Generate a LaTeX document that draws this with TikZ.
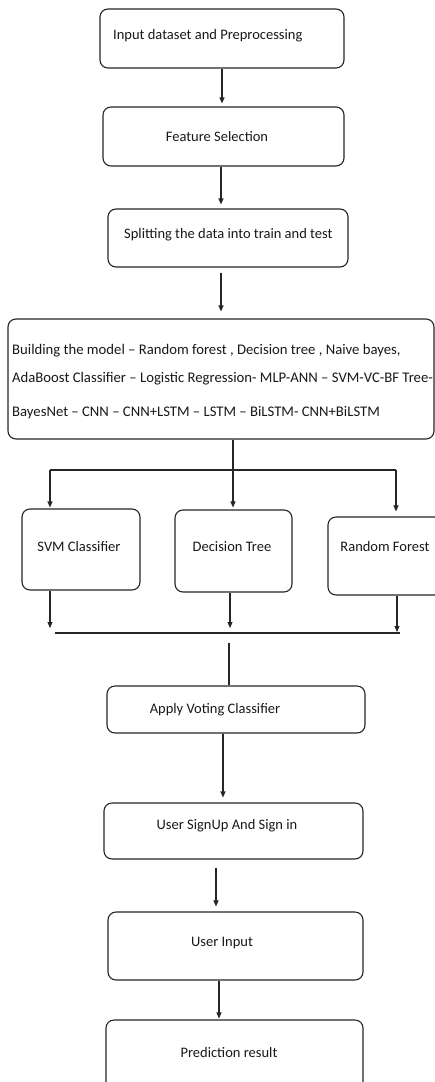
\documentclass[tikz,border=0pt]{standalone}
\usepackage{fontspec}
\setmainfont{Carlito}
\usetikzlibrary{arrows.meta,calc}
\begin{document}
\begin{tikzpicture}[x=1pt,y=-1pt,
  box/.style={draw=black!85,line width=1.1pt,rounded corners=8pt,inner sep=0pt},
  lbl/.style={inner sep=0pt,font=\fontsize{14.5}{16}\selectfont,text=black!90},
  arr/.style={draw=black!85,line width=1.1pt,-{Triangle[width=5pt,length=6pt]}},
  ln/.style={draw=black!85,line width=1.1pt}]
\clip (0,0) rectangle (435,1082);
\useasboundingbox (0,0) rectangle (435,1082);
\fill[white] (0,0) rectangle (435,1082);
% boxes
\node[box,minimum width=244pt,minimum height=59pt] (b1) at (222,38.5) {};
\node[box,minimum width=241pt,minimum height=59pt] (b2) at (223.5,136.5) {};
\node[box,minimum width=240pt,minimum height=58pt] (b3) at (228,238) {};
\node[box,minimum width=426pt,minimum height=120pt] (b4) at (221,379) {};
\node[box,minimum width=118pt,minimum height=81pt] (svm) at (81,549.5) {};
\node[box,minimum width=117pt,minimum height=82pt] (dt) at (233.5,551) {};
\node[box,minimum width=117pt,minimum height=78pt] (rf) at (386.5,556) {};
\node[box,minimum width=258pt,minimum height=47pt] (vote) at (236,709.5) {};
\node[box,minimum width=259pt,minimum height=56pt] (sign) at (233.5,831) {};
\node[box,minimum width=255pt,minimum height=68pt] (ui) at (235.5,946) {};
\node[box,minimum width=257pt,minimum height=70pt] (pred) at (234.5,1055) {};
% labels
\node[lbl,anchor=west] (t1) at (113,36) {Input dataset and Preprocessing};
\node[lbl] (t2) at (217,137) {Feature Selection};
\node[lbl,anchor=west] (t3) at (124,235) {Splitting the data into train and test};
\node[lbl,anchor=west,font=\fontsize{14.7}{16}\selectfont] (t4a) at (12,350.5) {Building the model – Random forest , Decision tree , Naive bayes,};
\node[lbl,anchor=west,font=\fontsize{14.7}{16}\selectfont] (t4b) at (12,379) {AdaBoost Classifier – Logistic Regression- MLP-ANN – SVM-VC-BF Tree-};
\node[lbl,anchor=west,font=\fontsize{14.7}{16}\selectfont] (t4c) at (12,412.5) {BayesNet – CNN – CNN+LSTM – LSTM – BiLSTM- CNN+BiLSTM};
\node[lbl] (t5) at (79,547) {SVM Classifier};
\node[lbl] (t6) at (232,547) {Decision Tree};
\node[lbl] (t7) at (385,547) {Random Forest};
\node[lbl] (t8) at (215,710) {Apply Voting Classifier};
\node[lbl] (t9) at (227,826) {User SignUp And Sign in};
\node[lbl] (t10) at (222,943) {User Input};
\node[lbl] (t11) at (229,1053) {Prediction result};
% junction coordinates
\coordinate (j1) at (233,470);
\coordinate (hl) at (50,470);
\coordinate (hr) at (396,470);
\coordinate (m1) at (55,633);
\coordinate (m2) at (400,633);
\coordinate (m3) at (229,643);
% connectors
\draw[arr] (b1.south) -- ([yshift=3pt]b1.south |- b2.north);
\draw[arr] ([xshift=-2.5pt]b2.south) -- ([xshift=-2.5pt,yshift=4pt]b2.south |- b3.north);
\draw[arr] ([xshift=-7pt,yshift=-5pt]b3.south) -- ([xshift=-7pt,yshift=7pt]b3.south |- b4.north);
\draw[ln] (b4.south -| j1) -- (j1);
\draw[ln] (hl) -- (hr);
\draw[arr] (hl) -- ([yshift=1pt]hl |- svm.north);
\draw[arr] (j1) -- ([yshift=2pt]j1 |- dt.north);
\draw[arr] (hr) -- ([yshift=5pt]hr |- rf.north);
\draw[arr] (svm.south -| 50,0) -- ([yshift=5pt]m1 -| 50,0);
\draw[arr] (dt.south -| 230,0) -- ([yshift=5pt]m1 -| 230,0);
\draw[arr] (rf.south -| 397,0) -- ([yshift=1pt]m1 -| 397,0);
\draw[ln] (m1) -- (m2);
\draw[ln] (m3) -- (m3 |- vote.north);
\draw[arr] (vote.south -| 223,0) -- ([yshift=5pt]sign.north -| 223,0);
\draw[arr] ([yshift=-8pt]sign.south -| 216,0) -- ([yshift=5pt]ui.north -| 216,0);
\draw[arr] (ui.south -| 219,0) -- ([yshift=1pt]pred.north -| 219,0);
\end{tikzpicture}
\end{document}
